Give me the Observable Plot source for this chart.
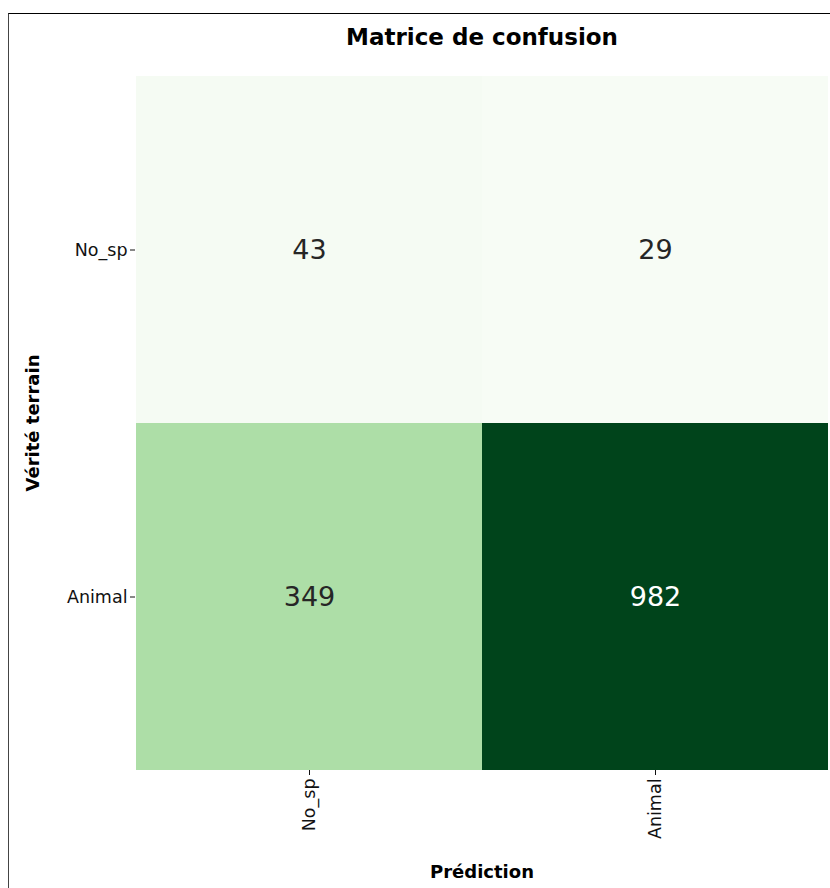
<!DOCTYPE html>
<html>
<head>
<meta charset="utf-8">
<script src="https://cdn.jsdelivr.net/npm/d3@7"></script>
<script src="https://cdn.jsdelivr.net/npm/@observablehq/plot@0.6"></script>
<style>
  html, body { margin: 0; padding: 0; background: #fff; }
  #wrap { position: relative; width: 830px; height: 888px; overflow: hidden; }
  #frame {
    position: absolute; left: 8px; top: 13px; width: 900px; height: 900px;
    border-top: 1px solid #000; border-left: 1.5px solid #444; pointer-events: none;
  }
</style>
</head>
<body>
<div id="wrap"><div id="frame"></div></div>
<script>
// Confusion matrix: ground truth (rows) vs prediction (columns)
const truthLabels = ["No_sp", "Animal"];
const predLabels = ["No_sp", "Animal"];
const counts = [
  [43, 29],    // truth No_sp
  [349, 982]   // truth Animal
];

const cells = truthLabels.flatMap((t, i) =>
  predLabels.map((p, j) => ({truth: t, pred: p, count: counts[i][j]}))
);
const maxCount = d3.max(cells, d => d.count);
const minCount = d3.min(cells, d => d.count);
const dark = d => d.count > (minCount + maxCount) / 2;

const chart = Plot.plot({
  width: 830,
  height: 888,
  marginLeft: 135,
  marginRight: 2,
  marginTop: 75,
  marginBottom: 118,
  style: {fontFamily: "DejaVu Sans", fontSize: "17.5px", color: "#111", background: "transparent"},
  x: {domain: predLabels, padding: 0, label: null},
  y: {domain: truthLabels, padding: 0, label: null},
  color: {type: "linear", scheme: "greens", domain: [minCount, maxCount]},
  marks: [
    Plot.cell(cells, {x: "pred", y: "truth", fill: "count", inset: 0}),
    Plot.text(cells.filter(d => !dark(d)), {x: "pred", y: "truth", text: d => String(d.count), fill: "#262626", fontSize: 27}),
    Plot.text(cells.filter(dark), {x: "pred", y: "truth", text: d => String(d.count), fill: "#ffffff", fontSize: 27}),
    Plot.axisX({tickRotate: -90, tickSize: 5, tickPadding: 3, label: null}),
    Plot.axisY({tickSize: 5, tickPadding: 3, label: null}),
    Plot.text(["Matrice de confusion"], {frameAnchor: "top", dy: -47, fontSize: 23, fontWeight: "bold", fill: "#000"}),
    Plot.text(["Prédiction"], {frameAnchor: "bottom", dy: 107, fontSize: 18, fontWeight: "bold", fill: "#000"}),
    Plot.text(["Vérité terrain"], {frameAnchor: "left", dx: -102, rotate: -90, textAnchor: "middle", fontSize: 18, fontWeight: "bold", fill: "#000"})
  ]
});
chart.style.position = "absolute";
chart.style.left = "0";
chart.style.top = "0";
document.getElementById("wrap").appendChild(chart);
</script>
</body>
</html>
